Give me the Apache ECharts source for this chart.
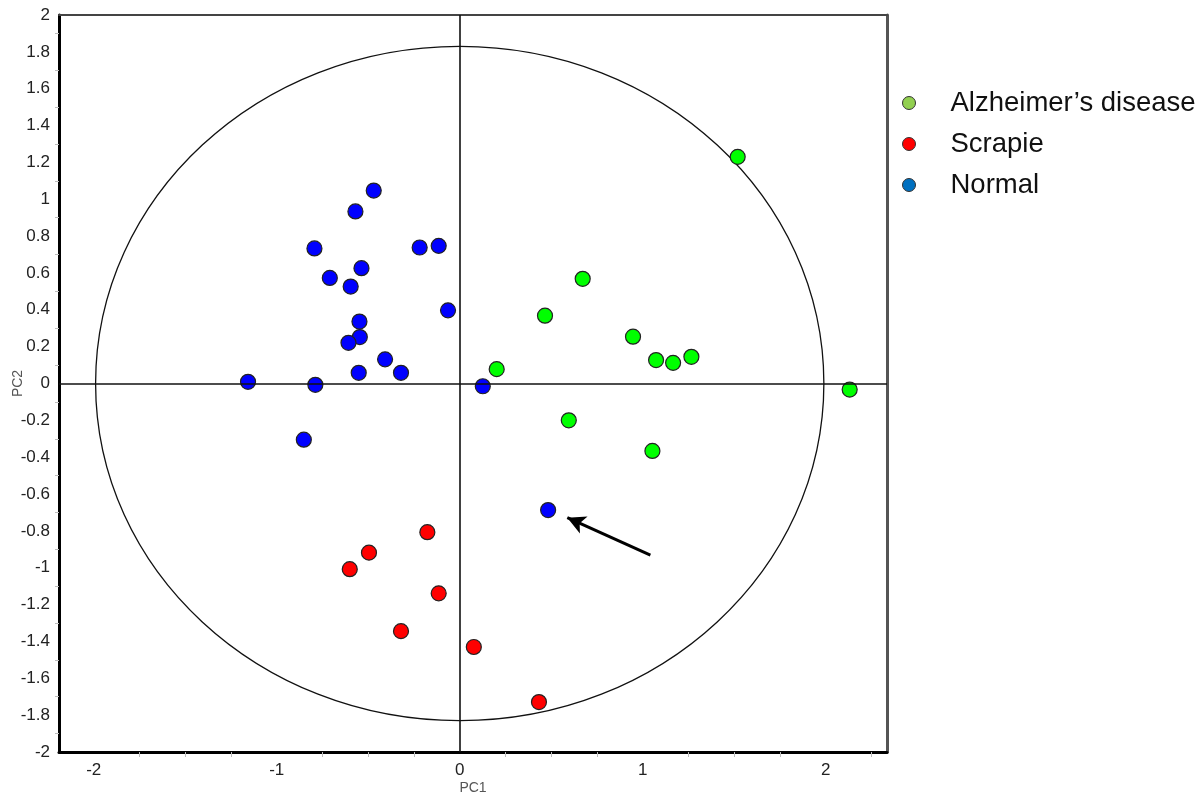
<!DOCTYPE html>
<html>
<head>
<meta charset="utf-8">
<script src="https://cdn.jsdelivr.net/npm/echarts@6/dist/echarts.min.js"></script>
<style>
html,body{margin:0;padding:0;background:#fff;}
#chart{width:1201px;height:797px;}
</style>
</head>
<body>
<div id="chart"></div>
<script>
// ---- data ----
var seriesNames = ["Alzheimer\u2019s disease", "Scrapie", "Normal"];
var alzheimerPts = [
  [0.672, 0.568], [0.466, 0.368], [0.947, 0.254], [1.073, 0.127], [1.166, 0.112],
  [1.266, 0.145], [0.202, 0.078], [2.131, -0.033], [0.596, -0.200], [1.053, -0.366],
  [1.519, 1.230]
];
var scrapiePts = [
  [-0.177, -0.807], [-0.496, -0.918], [-0.601, -1.008], [-0.115, -1.139],
  [-0.321, -1.344], [0.077, -1.430], [0.433, -1.729]
];
var normalPts = [
  [-0.470, 1.047], [-0.570, 0.934], [-0.794, 0.733], [-0.219, 0.738], [-0.115, 0.747],
  [-0.537, 0.626], [-0.710, 0.573], [-0.596, 0.526], [-0.064, 0.397], [-0.548, 0.336],
  [-0.546, 0.252], [-0.608, 0.221], [-0.408, 0.131], [-0.552, 0.058], [-0.321, 0.058],
  [-1.157, 0.009], [-0.789, -0.007], [0.126, -0.015], [-0.852, -0.305], [0.483, -0.687]
];
// confidence ellipse: centre x, centre y, radius x, radius y
var ellipseParams = [[0, 0, 1.99, 1.83]];
// annotation arrow: from -> to
var arrowFrom = [1.042, -0.931];
var arrowTo = [0.588, -0.728];
var xRange = [-2.19, 2.335];
var yRange = [-2, 2];

var chart = echarts.init(document.getElementById('chart'));
var FONT = 'Liberation Sans, Arial, sans-serif';

function intLabel(v) {
  return Math.abs(v - Math.round(v)) < 1e-6 ? String(Math.round(v)) : '';
}

var option = {
  backgroundColor: '#ffffff',
  animation: false,
  grid: { left: 59, top: 15, right: 314, bottom: 45, containLabel: false, outerBoundsMode: 'none' },
  legend: {
    orient: 'vertical',
    left: 897,
    top: 84,
    itemWidth: 13,
    itemHeight: 13,
    itemGap: 13,
    icon: 'circle',
    textStyle: { fontFamily: FONT, fontSize: 27.5, lineHeight: 27, color: '#111', padding: [0, 0, 0, 30] },
    data: [
      { name: seriesNames[0], itemStyle: { color: '#92d050', borderColor: '#333', borderWidth: 1 } },
      { name: seriesNames[1], itemStyle: { color: '#ff0000', borderColor: '#333', borderWidth: 1 } },
      { name: seriesNames[2], itemStyle: { color: '#0070c0', borderColor: '#333', borderWidth: 1 } }
    ]
  },
  xAxis: [
    {
      type: 'value', min: xRange[0], max: xRange[1], position: 'bottom',
      name: 'PC1', nameLocation: 'middle', nameGap: 29, nameMoveOverlap: false,
      nameTextStyle: { fontFamily: FONT, fontSize: 14, color: '#555' },
      axisLine: { show: true, onZero: false, lineStyle: { color: '#000', width: 3 } },
      axisTick: { show: false },
      minorTick: { show: true, splitNumber: 4, length: 5, lineStyle: { color: '#bbb', width: 1 } },
      splitLine: { show: false },
      axisLabel: { formatter: intLabel, fontFamily: FONT, fontSize: 17, color: '#222', margin: 10 }
    },
    {
      type: 'value', min: xRange[0], max: xRange[1], position: 'top',
      axisLine: { show: true, onZero: false, lineStyle: { color: '#444', width: 2 } },
      axisTick: { show: false }, axisLabel: { show: false }, splitLine: { show: false }
    }
  ],
  yAxis: [
    {
      type: 'value', min: yRange[0], max: yRange[1], interval: 0.2, position: 'left',
      name: 'PC2', nameLocation: 'middle', nameGap: 34, nameMoveOverlap: false,
      nameTextStyle: { fontFamily: FONT, fontSize: 14, color: '#555' },
      axisLine: { show: true, onZero: false, lineStyle: { color: '#000', width: 3 } },
      axisTick: { show: false },
      minorTick: { show: true, splitNumber: 2, length: 4, lineStyle: { color: '#bbb', width: 1 } },
      splitLine: { show: false },
      axisLabel: { fontFamily: FONT, fontSize: 17, color: '#222', margin: 9 }
    },
    {
      type: 'value', min: yRange[0], max: yRange[1], interval: 0.2, position: 'right',
      axisLine: { show: true, onZero: false, lineStyle: { color: '#555', width: 3 } },
      axisTick: { show: false }, axisLabel: { show: false }, splitLine: { show: false }
    }
  ],
  series: [
    {
      type: 'custom',
      name: 'ellipse',
      silent: true,
      z: 1,
      xAxisIndex: 0, yAxisIndex: 0,
      data: ellipseParams,
      renderItem: function (params, api) {
        var c = api.coord([api.value(0), api.value(1)]);
        var s = api.size([api.value(2), api.value(3)]);
        return {
          type: 'ellipse',
          shape: { cx: c[0], cy: c[1], rx: s[0], ry: s[1] },
          style: { fill: null, stroke: '#111', lineWidth: 1.3 }
        };
      },
      markLine: {
        silent: true,
        symbol: ['none', 'none'],
        label: { show: false },
        lineStyle: { color: '#111', width: 1.6, type: 'solid' },
        data: [
          { xAxis: 0 },
          { yAxis: 0 },
          [
            { coord: arrowFrom, symbol: 'none', lineStyle: { width: 3, color: '#000' } },
            { coord: arrowTo, symbol: 'arrow', symbolSize: [14, 18] }
          ]
        ]
      }
    },
    {
      type: 'scatter', name: seriesNames[0], data: alzheimerPts, z: 3,
      symbol: 'circle', symbolSize: 15,
      itemStyle: { color: '#00ff00', borderColor: '#222', borderWidth: 1.2, opacity: 1 }
    },
    {
      type: 'scatter', name: seriesNames[1], data: scrapiePts, z: 3,
      symbol: 'circle', symbolSize: 15,
      itemStyle: { color: '#ff0000', borderColor: '#222', borderWidth: 1.2, opacity: 1 }
    },
    {
      type: 'scatter', name: seriesNames[2], data: normalPts, z: 3,
      symbol: 'circle', symbolSize: 15,
      itemStyle: { color: '#0000ff', borderColor: '#222', borderWidth: 1.2, opacity: 1 }
    }
  ]
};
chart.setOption(option);
</script>
</body>
</html>
